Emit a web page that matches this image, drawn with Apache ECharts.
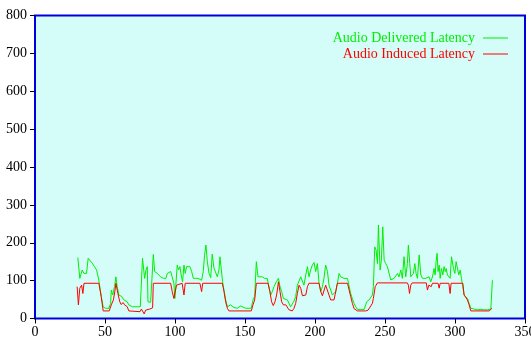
<!DOCTYPE html>
<html>
<head>
<meta charset="utf-8">
<script src="https://cdn.jsdelivr.net/npm/echarts@6/dist/echarts.min.js"></script>
<style>html,body{margin:0;padding:0;background:#fff}#c{width:531px;height:339px}</style>
</head>
<body>
<div id="c"></div>
<script>
const seriesNames = ['Audio Delivered Latency', 'Audio Induced Latency'];
const xTicks = [0, 50, 100, 150, 200, 250, 300, 350];
const yTicks = [0, 100, 200, 300, 400, 500, 600, 700, 800];

const deliveredX = [30.6,32,33.7,35,36.8,38,39.4,40.9,42.5,44,45.6,47.3,48.7,50.3,52.8,54,54.5,55.5,56.8,57.8,58.7,59.9,60.7,62,63.5,65.9,67,69.5,73,74,75.2,76.8,78.3,79.3,80.2,80.7,82.6,83.8,84.5,85.5,86.5,87.4,88.6,89.7,90.4,91.6,92.5,93.5,94.5,95.7,96.9,98,99.2,99.9,100.6,101.6,102.5,103.5,104.4,105.4,106.4,107.3,108.3,109.5,110.7,111.9,113.1,114.7,116.4,117.8,119,120.2,121.1,122.1,123.1,124.3,125.5,126.6,127.8,129,130.2,131.4,132.1,133.1,134,135,136.2,137.4,138.5,139.7,140.9,142.1,144.5,146.9,148.1,150.5,152.8,154.5,155.7,156.9,158.1,159.3,160.7,162.4,164,165.9,167.1,168.3,169.5,170.7,172.4,173.9,175,176.2,177.4,178.6,180.3,181.4,182.6,183.8,185,186.2,187.4,188.6,189.8,191,192.1,193.4,194.6,195.7,196.9,198.1,199.3,200.5,201.7,202.9,204.1,205.3,206.4,207.6,208.9,210,211.2,212.4,213.6,214.8,216,217.2,218.4,219.6,220.7,223.2,224.3,225.5,226.7,227.9,229.1,230.3,231.5,232.7,233.9,235.1,236.2,236.9,237.9,238.6,239.8,241,241.7,242.7,243.6,244.6,245.3,246,246.5,247.4,248.4,249.4,250.5,251.7,252.9,254.1,255.3,256.5,257.7,258.9,260,261.3,262.4,263.6,264.8,266,266.7,267.7,268.4,269.6,270.3,271.3,272.2,273.2,274.4,275.6,276.8,278,279.1,280.3,281.5,282.7,283.9,285.1,285.8,286.5,287.2,287.9,288.7,289.4,290.3,291.3,292.2,293,293.7,294.6,295.6,296.5,297.5,298.2,298.9,299.9,300.8,301.8,302.7,303.7,304.6,305.6,306.5,307.7,308.9,310.1,311.3,312.5,313.7,316,318.4,320.8,323.2,324.4,325.6,326.7];
const deliveredY = [161,106,128,119,119,159,156,146,137,128,101,58,31,27,27,40,75,62,84,110,84,62,58,58,49,44,36,31,31,27,31,159,106,128,137,44,43,43,169,124,128,119,124,110,115,106,110,106,119,124,124,119,93,53,88,141,128,137,115,97,141,119,137,132,137,124,106,106,106,110,101,124,167,194,150,119,108,170,134,132,110,128,163,128,97,75,49,31,27,36,31,29,27,33,29,27,27,27,49,58,150,110,106,110,106,106,84,62,71,84,97,106,84,71,53,49,49,44,31,36,46,58,88,93,110,106,88,115,137,110,128,141,148,124,145,93,71,84,106,141,124,88,84,62,58,71,93,119,110,115,106,106,101,66,52,40,31,24,27,24,27,24,36,44,42,49,53,62,84,189,181,145,247,247,128,154,242,154,145,137,132,102,102,106,106,119,110,128,106,163,110,145,194,145,110,106,119,145,119,106,168,115,106,101,106,101,110,97,110,132,115,150,172,124,141,106,132,115,137,124,132,115,119,106,163,159,132,119,150,154,115,128,106,110,62,58,53,40,27,23,25,23,24,23,23,20,25,101];

const inducedX = [30.1,31,32,33.3,34.2,35,45.6,47.3,48.7,53,54.5,56,57,57.8,59.2,60.6,61.5,63,64,65.9,67,68,75,76,77,78,79,80,82,84,84.5,96.9,98,99.2,100.1,101.1,101.6,105.1,106.4,107.3,117.8,119,119.8,133.8,135,136.2,137.4,138.5,154.5,155.7,156.9,158.1,166.4,167.8,169,170.2,171.4,172.6,173.9,175,176.2,177.4,178.6,179.2,180.3,181.4,182.6,183.8,185,186.2,187.4,188.6,189.8,191,192.1,193.4,194.6,195.7,202.9,204.1,205.3,206.4,207.6,208.9,210,211.2,212.4,213.6,214.8,216,223.2,224.3,225.5,226.7,227.9,229.1,230.3,236.2,237.9,238.6,239.8,241,241.7,243,244.6,266,266.7,267.5,268.4,269.4,279.5,280.3,281.3,282.2,283,283.9,287.9,288.7,289.4,295.6,296.5,297.2,305.6,306.5,307.7,308.9,310.1,311.3,324.4,325.6,326.4];
const inducedY = [84,36,80,88,66,93,93,58,20,20,36,49,71,93,66,44,37,42,36,31,20,18,18,25,22,12,22,27,25,28,93,93,71,53,49,88,93,93,62,93,93,71,93,93,71,44,27,20,20,36,49,93,93,71,44,34,44,62,97,71,44,36,40,36,31,23,18,20,27,40,66,88,80,60,62,62,84,93,93,71,60,62,88,84,62,49,46,49,46,93,93,88,58,40,26,21,20,20,22,27,33,40,53,84,94,94,88,66,88,94,94,75,88,84,84,93,93,80,93,93,66,93,93,62,58,49,36,20,20,17,27];

const pairs = (xs, ys) => xs.map((x, i) => [x, ys[i]]);
const serif = 'Liberation Serif, Times New Roman, serif';

const chart = echarts.init(document.getElementById('c'), null, {renderer: 'canvas'});
chart.setOption({
  backgroundColor: '#ffffff',
  animation: false,
  grid: {
    left: 35, right: 6, top: 15.5, bottom: 20.5,
    outerBoundsMode: 'none', containLabel: false,
    show: true, backgroundColor: '#d4fdf9', borderColor: '#0000dd', borderWidth: 2
  },
  legend: {
    orient: 'vertical', right: 18, top: 26, align: 'right',
    itemWidth: 25, itemHeight: 14, itemGap: 2,
    icon: 'path://M0,0 L25,0 L25,1 L0,1 Z',
    data: [
      {name: seriesNames[0], textStyle: {color: '#00ee00'}},
      {name: seriesNames[1], textStyle: {color: '#ff0000'}}
    ],
    textStyle: {fontFamily: serif, fontSize: 14, padding: [0, 3, 0, 0]}
  },
  xAxis: {
    type: 'value', min: xTicks[0], max: xTicks[xTicks.length - 1], interval: 50,
    axisLine: {show: false},
    axisTick: {show: true, length: 5, lineStyle: {color: '#000', width: 1}},
    axisLabel: {color: '#000', fontFamily: serif, fontSize: 14, margin: 7},
    splitLine: {show: false}
  },
  yAxis: {
    type: 'value', min: yTicks[0], max: yTicks[yTicks.length - 1], interval: 100,
    axisLine: {show: false},
    axisTick: {show: true, length: 5, lineStyle: {color: '#000', width: 1}},
    axisLabel: {color: '#000', fontFamily: serif, fontSize: 14, margin: 8},
    splitLine: {show: false}
  },
  series: [
    {
      name: seriesNames[0], type: 'line', symbol: 'none',
      data: pairs(deliveredX, deliveredY),
      lineStyle: {color: '#00ee00', width: 1}, itemStyle: {color: '#00ee00'}
    },
    {
      name: seriesNames[1], type: 'line', symbol: 'none',
      data: pairs(inducedX, inducedY),
      lineStyle: {color: '#ff0000', width: 1}, itemStyle: {color: '#ff0000'}
    }
  ]
});
</script>
</body>
</html>
